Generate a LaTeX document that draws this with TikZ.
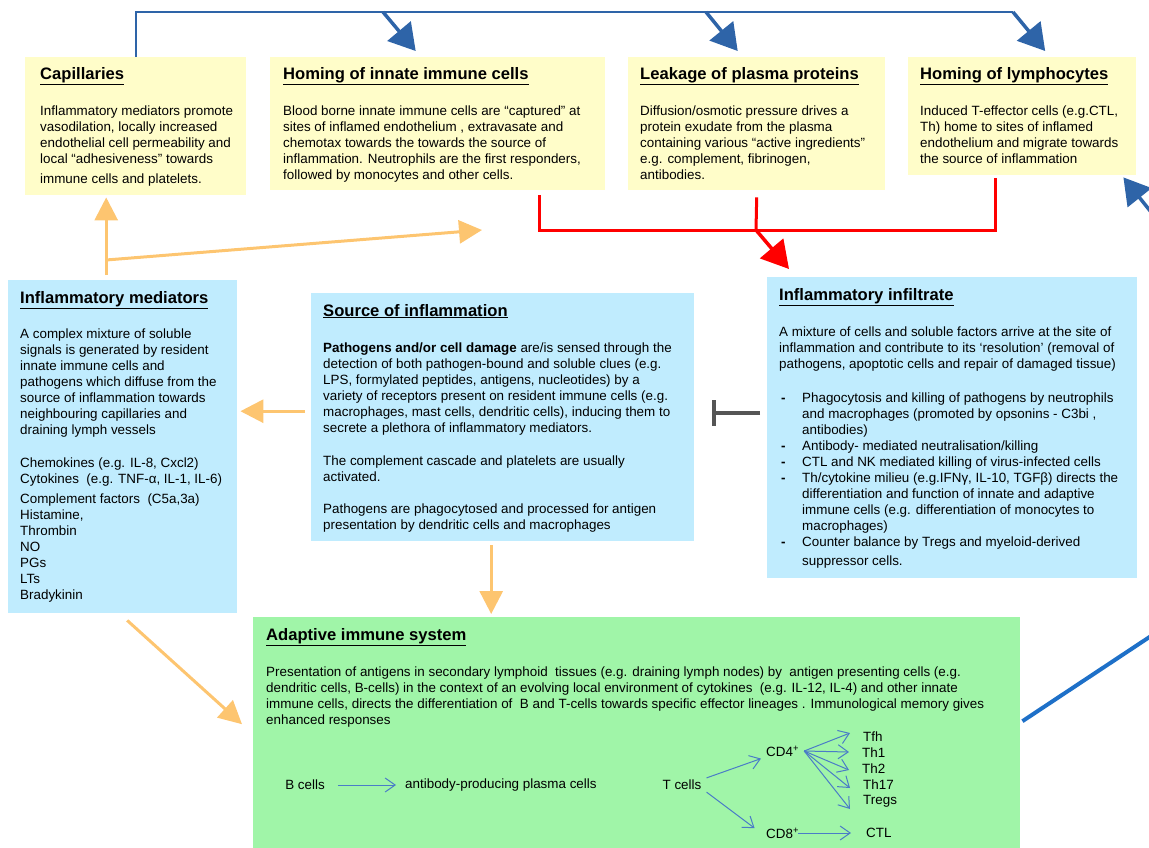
\documentclass[tikz,border=0pt]{standalone}
\usepackage{fontspec}
\setmainfont{Liberation Sans}
\usetikzlibrary{positioning,calc,arrows.meta}

\definecolor{boxyellow}{RGB}{255,253,201}
\definecolor{boxblue}{RGB}{192,236,254}
\definecolor{boxgreen}{RGB}{160,245,168}
\definecolor{arrorange}{RGB}{253,197,112}
\definecolor{arrblue}{RGB}{46,100,168}
\definecolor{linkblue}{RGB}{30,112,200}
\definecolor{thinblue}{RGB}{74,124,199}
\definecolor{inhibgray}{RGB}{85,85,85}

\newcommand{\bodyfont}{\fontsize{13.4}{16}\selectfont}
\newcommand{\headfont}{\fontsize{16.6}{20}\selectfont\bfseries}
\newcommand{\blt}{\hspace*{2pt}\makebox[21pt][l]{\textbf{-}}}
\newcommand{\ind}{\hspace*{23pt}}

\tikzset{
  ybox/.style={fill=boxyellow, anchor=north west, inner sep=0},
  bbox/.style={fill=boxblue, anchor=north west, inner sep=0},
  gbox/.style={fill=boxgreen, anchor=north west, inner sep=0},
  head/.style={anchor=base west, inner sep=0, font=\headfont},
  body/.style={anchor=north west, inner sep=0, align=left, font=\bodyfont},
  cellnd/.style={font=\bodyfont, inner xsep=5pt, inner ysep=2pt},
  blueln/.style={draw=arrblue, line width=2pt},
  bluearr/.style={draw=arrblue, line width=3.5pt, -{Triangle[length=26pt,width=30pt]}},
  orarr/.style={draw=arrorange, line width=3pt, -{Triangle[length=23pt,width=23pt]}},
  redln/.style={draw=red, line width=3pt},
  redarr/.style={draw=red, line width=3.5pt, -{Triangle[length=27pt,width=30pt]}},
  inhib/.style={draw=inhibgray, line width=4pt, -{Bar[width=26pt]}},
  thinarr/.style={draw=thinblue, line width=1pt, -{Straight Barb[length=10pt,width=14pt]}}
}

\begin{document}
\begin{tikzpicture}[x=1pt,y=-1pt]
\useasboundingbox (0,0) rectangle (1149,847);

% boxes
\node[ybox, minimum width=221, minimum height=138] (capil) at (25,57) {};
\node[ybox, minimum width=335, minimum height=133] (hinnate) at (270,57) {};
\node[ybox, minimum width=257, minimum height=133] (leak) at (628,57) {};
\node[ybox, minimum width=228, minimum height=118] (hlymph) at (908,57) {};
\node[bbox, minimum width=229, minimum height=333] (medi) at (8,280) {};
\node[bbox, minimum width=383, minimum height=248] (src) at (311,293) {};
\node[bbox, minimum width=370, minimum height=301] (infil) at (767,277) {};
\node[gbox, minimum width=767, minimum height=232] (adapt) at (253,617) {};

% headings
\node[head] (capilhd) at (40,79) {\underline{Capillaries}};
\node[head] (hinnatehd) at (283,79) {\underline{Homing of innate immune cells}};
\node[head] (leakhd) at (640,79) {\underline{Leakage of plasma proteins}};
\node[head] (hlymphhd) at (920,79) {\underline{Homing of lymphocytes}};
\node[head] (medihd) at (20,303) {\underline{Inflammatory mediators}};
\node[head] (srchd) at (323,316) {\underline{Source of inflammation}};
\node[head] (infilhd) at (779,300) {\underline{Inflammatory infiltrate}};
\node[head] (adapthd) at (266,640) {\underline{Adaptive immune system}};

% texts
\node[body] (capiltxt) at (40,106) {Inflammatory mediators promote\\
vasodilation, locally increased\\
endothelial cell permeability and\\
local “adhesiveness” towards\\[4pt]
immune cells and platelets.};

\node[body] (hinnatetxt) at (283,106) {Blood borne innate immune cells are “captured” at\\
sites of inflamed endothelium , extravasate and\\
chemotax towards the towards the source of\\
inflammation. Neutrophils are the first responders,\\
followed by monocytes and other cells.};

\node[body] (leaktxt) at (640,106) {Diffusion/osmotic pressure drives a\\
protein exudate from the plasma\\
containing various “active ingredients”\\
e.g. complement, fibrinogen,\\
antibodies.};

\node[body] (hlymphtxt) at (920,106) {Induced T-effector cells (e.g.CTL,\\
Th) home to sites of inflamed\\
endothelium and migrate towards\\
the source of inflammation};

\node[body] (meditxt) at (20,329) {A complex mixture of soluble\\
signals is generated by resident\\
innate immune cells and\\
pathogens which diffuse from the\\
source of inflammation towards\\
neighbouring capillaries and\\
draining lymph vessels\\[17pt]
Chemokines (e.g. IL-8, Cxcl2)\\
Cytokines \ (e.g. TNF-α, IL-1, IL-6)\\[4pt]
Complement factors \ (C5a,3a)\\
Histamine,\\
Thrombin\\
NO\\
PGs\\
LTs\\
Bradykinin};

\node[body] (srctxt) at (323,343) {\textbf{Pathogens and/or cell damage} are/is sensed through the\\
detection of both pathogen-bound and soluble clues (e.g.\\
LPS, formylated peptides, antigens, nucleotides) by a\\
variety of receptors present on resident immune cells (e.g.\\
macrophages, mast cells, dendritic cells), inducing them to\\
secrete a plethora of inflammatory mediators.\\[17pt]
The complement cascade and platelets are usually\\
activated.\\[16pt]
Pathogens are phagocytosed and processed for antigen\\
presentation by dendritic cells and macrophages};

\node[body] (infiltxt) at (779,327) {A mixture of cells and soluble factors arrive at the site of\\
inflammation and contribute to its ‘resolution’ (removal of\\
pathogens, apoptotic cells and repair of damaged tissue)\\[18pt]
\blt Phagocytosis and killing of pathogens by neutrophils\\
\ind and macrophages (promoted by opsonins - C3bi ,\\
\ind antibodies)\\
\blt Antibody- mediated neutralisation/killing\\
\blt CTL and NK mediated killing of virus-infected cells\\
\blt Th/cytokine milieu (e.g.IFNγ, IL-10, TGFβ) directs the\\
\ind differentiation and function of innate and adaptive\\
\ind immune cells (e.g. differentiation of monocytes to\\
\ind macrophages)\\
\blt Counter balance by Tregs and myeloid-derived\\[3pt]
\ind suppressor cells.};

\node[body] (adapttxt) at (266,667) {Presentation of antigens in secondary lymphoid \ tissues (e.g. draining lymph nodes) by \ antigen presenting cells (e.g.\\
dendritic cells, B-cells) in the context of an evolving local environment of cytokines \ (e.g. IL-12, IL-4) and other innate\\
immune cells, directs the differentiation of \ B and T-cells towards specific effector lineages . Immunological memory gives\\
enhanced responses};

% cells in the adaptive box
\node[cellnd] (bcell) at (305,785) {B cells};
\node[cellnd, anchor=west] (plasma) at (400,785) {antibody-producing plasma cells};
\node[cellnd] (tcell) at (682,785) {T cells};
\node[cellnd, anchor=west] (cd4) at (761,751) {CD4\textsuperscript{+}};
\node[cellnd, anchor=west] (cd8) at (761,833) {CD8\textsuperscript{+}};
\node[cellnd, anchor=west] (ctl) at (861,833) {CTL};
\node[cellnd, anchor=west] (tfh) at (858,737) {Tfh};
\node[cellnd, anchor=west] (th1) at (857,753) {Th1};
\node[cellnd, anchor=west] (th2) at (857,769) {Th2};
\node[cellnd, anchor=west] (th17) at (858,785) {Th17};
\node[cellnd, anchor=west] (treg) at (858,801) {Tregs};

\draw[thinarr, shorten <=8pt, shorten >=4pt] (bcell) -- (plasma);
\draw[thinarr] (tcell.north east) -- (cd4.south west);
\draw[thinarr, shorten >=8pt] (tcell.south east) -- (cd8.west);
\draw[thinarr, shorten >=10pt] ([xshift=-6pt]cd8.east) -- (ctl.west);
\foreach \t/\dy in {tfh/-4, th1/-1, th2/1, th17/3, treg/8}
  \draw[thinarr] (cd4.east) -- ($(\t.west)+(-8,\dy)$);

% top blue links
\coordinate (tb1) at (383,12);
\coordinate (tb2) at (706,12);
\coordinate (tb3) at (1013,12);
\draw[blueln] (capil.north) |- (tb3);
\draw[bluearr] (tb1) -- ($(hinnate.north)+(-22,-6)$);
\draw[bluearr] (tb2) -- ($(leak.north)+(-19,-6)$);
\draw[bluearr] (tb3) -- ($(hlymph.north)+(23,-6)$);

% blue link on the right
\coordinate (rin) at (1151,212);
\coordinate (rout) at (1151,636);
\draw[bluearr] (rin) -- ($(hlymph.south east)+(-13,2)$);
\draw[draw=linkblue, line width=4pt] ($(adapt.east)+(2,-12)$) -- (rout);

% red links
\coordinate (rj) at (756,230);
\draw[redln] ($(hinnate.south)+(101.5,5)$) |- ($(hlymph.south)+(-27,55)$) -- ($(hlymph.south)+(-27,3)$);
\draw[redln] ($(leak.south)+(0,7)$) -- (rj);
\draw[redarr] (rj) -- ($(infil.north west)+(22,-8)$);

% orange links
\coordinate (orj) at (106,260);
\coordinate (orend) at (482,230);
\draw[orarr] ($(medi.north)+(-16.5,-5)$) -- ($(capil.south)+(-29.5,2)$);
\draw[orarr] (orj) -- (orend);
\draw[orarr, shorten <=6pt, shorten >=3pt] ([yshift=6pt]src.west) -- ([yshift=6pt]src.west -| medi.east);
\draw[orarr, shorten <=4pt, shorten >=3pt] ([xshift=-11.5pt]src.south) -- ([xshift=-11.5pt]src.south |- adapt.north);
\draw[orarr] ($(medi.south)+(4.5,7)$) -- ($(adapt.west)+(-11,-9)$);

% inhibition
\draw[inhib] ([yshift=15pt]infil.west) ++(-7,0) -- ++(-48,0);

\end{tikzpicture}
\end{document}
